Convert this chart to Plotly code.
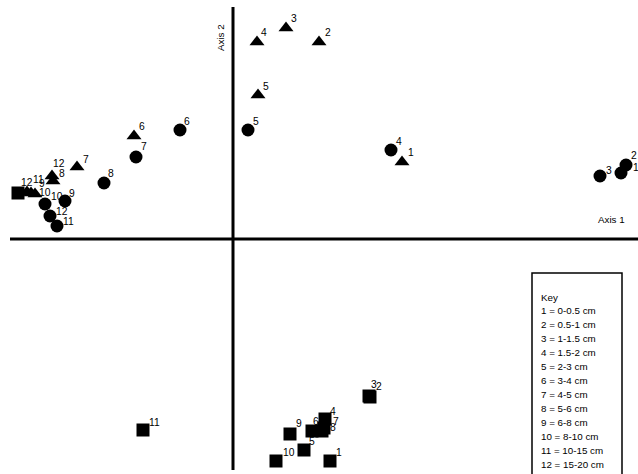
import plotly.graph_objects as go

# Ordination scores (axis 1, axis 2) (arbitrary units)
labels = ["1", "2", "3", "4", "5", "6", "7", "8", "9", "10", "11", "12"]

tri_x = [1.69, 0.86, 0.53, 0.24, 0.25, -0.99, -1.56, -1.80, -2.02, -1.98, -2.06, -1.81]
tri_y = [0.77, 1.97, 2.11, 1.97, 1.44, 1.03, 0.72, 0.58, 0.46, 0.45, 0.47, 0.63]

cir_x = [3.88, 3.93, 3.67, 1.58, 0.15, -0.53, -0.97, -1.29, -1.68, -1.88, -1.76, -1.83]
cir_y = [0.66, 0.74, 0.63, 0.89, 1.09, 1.09, 0.82, 0.56, 0.38, 0.35, 0.13, 0.23]

sq_x = [0.97, 1.37, 1.36, 0.92, 0.71, 0.79, 0.91, 0.89, 0.57, 0.43, -0.90, -2.15]
sq_y = [-2.22, -1.58, -1.57, -1.80, -2.11, -1.92, -1.89, -1.92, -1.95, -2.22, -1.91, 0.46]

key_lines = ["Key", "1 = 0-0.5 cm", "2 = 0.5-1 cm", "3 = 1-1.5 cm", "4 = 1.5-2 cm",
             "5 = 2-3 cm", "6 = 3-4 cm", "7 = 4-5 cm", "8 = 5-6 cm", "9 = 6-8 cm",
             "10 = 8-10 cm", "11 = 10-15 cm", "12 = 15-20 cm"]

# ---- layout / styling (pixel offsets of each point label: left edge, vertical centre) ----
tri_off = [(5, -9.5), (5, -9.5), (4, -9.5), (3, -9.5), (4, -9), (4, -10), (5, -8),
           (5, -7.5), (7, -9.5), (3, -1.5), (5, -13), (0, -12.5)]
cir_off = [(11, -5.5), (4, -10), (5, -6), (4, -9), (4, -9), (3, -8.5), (4, -11),
           (3, -9.5), (3, -7.5), (5, -8), (5, -5), (5, -5)]
sq_off = [(5, -8.5), (5, -10.5), (1, -12), (4, -7.5), (4, -8.5), (0, -9.5), (8, -6.5),
          (7, -3.5), (5, -10.5), (6, -8.5), (5, -8), (2, -10.5)]

W, H = 638, 474
x_range = [-2.33, 4.05]
y_range = [-2.35, 2.39]
FAM = "Liberation Sans, Arial, sans-serif"

fig = go.Figure()

series = [
    (tri_x, tri_y, "triangle-up", tri_off, 13),
    (cir_x, cir_y, "circle", cir_off, 13),
    (sq_x, sq_y, "square", sq_off, 13),
]
for xs, ys, sym, offs, size in series:
    fig.add_trace(go.Scatter(x=xs, y=ys, mode="markers",
                             marker=dict(symbol=sym, size=size, color="black",
                                         line=dict(width=0)),
                             cliponaxis=False, showlegend=False, hoverinfo="skip"))
    for x, y, lab, (dx, dy) in zip(xs, ys, labels, offs):
        fig.add_annotation(x=x, y=y, text=lab, showarrow=False,
                           xanchor="left", yanchor="middle", xshift=dx, yshift=-dy,
                           borderpad=0, font=dict(family=FAM, size=10.3, color="black"))

# Axis lines crossing at the origin
fig.add_shape(type="line", x0=-2.23, x1=4.05, y0=0, y1=0,
              line=dict(color="black", width=3), layer="below")
fig.add_shape(type="line", x0=0, x1=0, y0=-2.31, y1=2.32,
              line=dict(color="black", width=3), layer="below")

fig.add_annotation(x=3.78, y=0.20, text="Axis 1", showarrow=False,
                   font=dict(family=FAM, size=9.8, color="black"),
                   xanchor="center", yanchor="middle")
fig.add_annotation(x=-0.13, y=2.01, text="Axis 2", showarrow=False,
                   font=dict(family=FAM, size=9.8, color="black"),
                   textangle=-90, xanchor="center", yanchor="middle")

# Key box
fig.add_shape(type="rect", xref="paper", yref="paper",
              x0=532 / W, x1=622 / W, y0=-0.1, y1=1 - 273 / H,
              line=dict(color="black", width=1.5), fillcolor="white", layer="above")
for i, line in enumerate(key_lines):
    fig.add_annotation(xref="paper", yref="paper", x=540 / W, y=1 - (297 + 13.95 * i) / H,
                       text=line, showarrow=False, xanchor="left", yanchor="middle",
                       borderpad=0, font=dict(family=FAM, size=9.8, color="black"))

fig.update_layout(
    width=W, height=H, margin=dict(l=0, r=0, t=0, b=0),
    paper_bgcolor="white", plot_bgcolor="white",
    xaxis=dict(range=x_range, visible=False, showgrid=False, zeroline=False, fixedrange=True),
    yaxis=dict(range=y_range, visible=False, showgrid=False, zeroline=False, fixedrange=True),
)

fig.write_html("out.html", config={"displayModeBar": False},
               post_script="document.body.style.margin='0';document.body.style.overflow='hidden';")
